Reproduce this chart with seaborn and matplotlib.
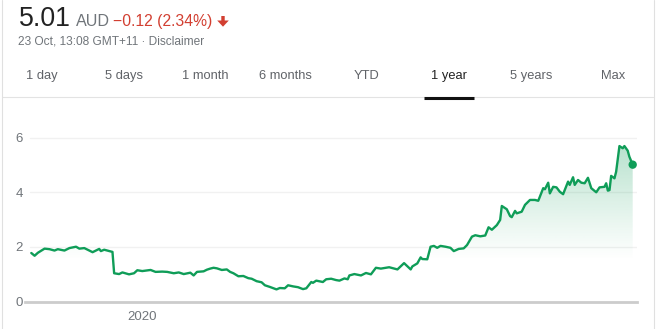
import matplotlib
matplotlib.use("Agg")
import matplotlib.pyplot as plt
import matplotlib.dates as mdates
from matplotlib.patches import Polygon
from matplotlib.lines import Line2D
import matplotlib.colors as mcolors
import numpy as np
import pandas as pd
import seaborn as sns

# ---------------- data ----------------
dates = [
    "2019-10-26", "2019-10-28", "2019-10-30", "2019-11-03", "2019-11-06", "2019-11-09",
    "2019-11-11", "2019-11-15", "2019-11-18", "2019-11-22", "2019-11-24", "2019-11-27",
    "2019-12-02", "2019-12-06", "2019-12-07", "2019-12-09", "2019-12-14", "2019-12-15",
    "2019-12-18", "2019-12-20", "2019-12-24", "2019-12-27", "2019-12-29", "2020-01-01",
    "2020-01-06", "2020-01-09", "2020-01-13", "2020-01-16", "2020-01-20", "2020-01-23",
    "2020-01-26", "2020-01-30", "2020-02-01", "2020-02-03", "2020-02-07", "2020-02-09",
    "2020-02-11", "2020-02-13", "2020-02-15", "2020-02-18", "2020-02-21", "2020-02-23",
    "2020-02-25", "2020-02-28", "2020-03-02", "2020-03-05", "2020-03-07", "2020-03-10",
    "2020-03-13", "2020-03-15", "2020-03-18", "2020-03-22", "2020-03-24", "2020-03-27",
    "2020-03-29", "2020-04-01", "2020-04-04", "2020-04-07", "2020-04-09", "2020-04-12",
    "2020-04-13", "2020-04-15", "2020-04-19", "2020-04-21", "2020-04-24", "2020-04-27",
    "2020-04-29", "2020-05-02", "2020-05-04", "2020-05-05", "2020-05-08", "2020-05-12",
    "2020-05-15", "2020-05-18", "2020-05-21", "2020-05-24", "2020-05-29", "2020-06-03",
    "2020-06-07", "2020-06-11", "2020-06-12", "2020-06-15", "2020-06-17", "2020-06-18",
    "2020-06-21", "2020-06-23", "2020-06-25", "2020-06-27", "2020-06-29", "2020-07-02",
    "2020-07-05", "2020-07-07", "2020-07-10", "2020-07-13", "2020-07-15", "2020-07-18",
    "2020-07-20", "2020-07-23", "2020-07-26", "2020-07-28", "2020-07-30", "2020-08-02",
    "2020-08-04", "2020-08-05", "2020-08-08", "2020-08-10", "2020-08-11", "2020-08-13",
    "2020-08-14", "2020-08-17", "2020-08-19", "2020-08-22", "2020-08-25", "2020-08-27",
    "2020-08-30", "2020-08-31", "2020-09-02", "2020-09-03", "2020-09-05", "2020-09-07",
    "2020-09-09", "2020-09-11", "2020-09-14", "2020-09-15", "2020-09-17", "2020-09-18",
    "2020-09-20", "2020-09-22", "2020-09-24", "2020-09-26", "2020-09-28", "2020-10-01",
    "2020-10-03", "2020-10-06", "2020-10-07", "2020-10-08", "2020-10-09", "2020-10-10",
    "2020-10-12", "2020-10-13", "2020-10-15", "2020-10-17", "2020-10-18", "2020-10-20",
    "2020-10-21", "2020-10-23",
]
prices = [
    1.78, 1.68, 1.79, 1.94, 1.92, 1.87,
    1.92, 1.87, 1.96, 2.01, 1.94, 1.96,
    1.81, 1.93, 1.85, 1.90, 1.82, 1.04,
    1.01, 1.07, 1.00, 1.04, 1.15, 1.12,
    1.16, 1.09, 1.10, 1.09, 1.04, 1.07,
    1.01, 1.06, 0.96, 1.09, 1.11, 1.17,
    1.21, 1.24, 1.22, 1.16, 1.18, 1.09,
    1.04, 0.93, 0.94, 0.86, 0.84, 0.75,
    0.71, 0.60, 0.54, 0.45, 0.50, 0.49,
    0.60, 0.56, 0.53, 0.46, 0.49, 0.72,
    0.69, 0.77, 0.72, 0.82, 0.84, 0.79,
    0.77, 0.85, 0.82, 0.96, 1.01, 0.96,
    1.05, 1.00, 1.24, 1.21, 1.26, 1.18,
    1.41, 1.18, 1.29, 1.40, 1.62, 1.56,
    1.55, 2.01, 2.04, 1.97, 2.04, 2.01,
    1.97, 1.85, 1.93, 1.95, 2.07, 2.38,
    2.43, 2.39, 2.42, 2.72, 2.63, 2.80,
    2.99, 3.50, 3.38, 3.13, 3.09, 3.32,
    3.23, 3.29, 3.54, 3.72, 3.72, 3.69,
    4.15, 4.11, 4.35, 3.96, 4.20, 4.18,
    4.02, 3.93, 4.39, 4.27, 4.55, 4.27,
    4.45, 4.35, 4.33, 4.53, 4.15, 4.00,
    4.18, 4.20, 4.33, 4.06, 4.08, 4.60,
    4.51, 4.75, 5.69, 5.61, 5.69, 5.52,
    5.30, 5.01,
]
y_ticks = [0, 2, 4, 6]
x_tick_dates = ["2020-01-01"]
x_tick_labels = ["2020"]
tabs = ["1 day", "5 days", "1 month", "6 months", "YTD", "1 year", "5 years", "Max"]
price_text = "5.01"
currency = "AUD"
change_text = "\u22120.12 (2.34%)"
subtitle = "23 Oct, 13:08 GMT+11 \u00b7 Disclaimer"

# ---------------- style ----------------
sns.set_theme(style="white")
plt.rcParams['font.family'] = ['Liberation Sans', 'DejaVu Sans']

W, H = 656, 329
fig = plt.figure(figsize=(W / 100, H / 100), dpi=100)
fig.patch.set_facecolor("white")


def fx(x):
    return x / W


def fy(y):
    return 1 - y / H


green = "#0f9d58"
gray_txt = "#70757a"
tab_gray = "#606368"
red = "#d23f31"

# ---------------- chart ----------------
ax_left, ax_right = 25, 637
ax_bottom, ax_top = 301.7, 123.9
ax = fig.add_axes([fx(ax_left), fy(ax_bottom), (ax_right - ax_left) / W, (ax_bottom - ax_top) / H])
ax.set_facecolor("none")

df = pd.DataFrame({"date": pd.to_datetime(dates), "price": prices})
sns.lineplot(data=df, x="date", y="price", ax=ax, color=green, linewidth=1.7, zorder=4)

# gradient fill under line
xnum = mdates.date2num(df["date"])
verts = [(xnum[0], 0)] + list(zip(xnum, df["price"])) + [(xnum[-1], 0)]
poly = Polygon(verts, closed=True, facecolor="none", edgecolor="none", transform=ax.transData)
ax.add_patch(poly)
rgb = mcolors.to_rgb(green)
n = 256
grad = np.zeros((n, 1, 4))
grad[..., 0], grad[..., 1], grad[..., 2] = rgb
ys = np.linspace(6.5, 0, n)
grad[:, 0, 3] = np.clip((ys - 1.5) / (6.0 - 1.5), 0, 1) ** 1.1 * 0.32
im = ax.imshow(grad, extent=[xnum[0], xnum[-1], 0, 6.5], aspect="auto", origin="upper",
               zorder=2, interpolation="bilinear")
im.set_clip_path(poly)

# end dot
ax.scatter([df["date"].iloc[-1]], [df["price"].iloc[-1]], s=36, color=green, zorder=5,
           edgecolors="none")

jan1 = mdates.date2num(pd.Timestamp("2020-01-01"))
ax.set_xlim(jan1 - 70.8, jan1 + 298.6)
ax.set_ylim(0, 6.5)

for v in y_ticks[1:]:
    ax.axhline(v, xmin=5 / 612, xmax=1, color="#f1f1f1", lw=1, zorder=1)

ax.set_yticks(y_ticks)
ax.set_yticklabels([str(v) for v in y_ticks])
ax.set_xticks([mdates.date2num(pd.Timestamp(d)) for d in x_tick_dates])
ax.set_xticklabels(x_tick_labels)
ax.set_xlabel("")
ax.set_ylabel("")
ax.tick_params(axis="y", length=0, pad=1.5, labelsize=9.5, labelcolor=gray_txt)
ax.tick_params(axis="x", length=3.6, width=1, color="#cccccc", pad=2.8, labelsize=9.5,
               labelcolor=gray_txt)
for s in ["top", "right", "left"]:
    ax.spines[s].set_visible(False)
ax.spines["bottom"].set_color("#cccccc")
ax.spines["bottom"].set_linewidth(2)
ax.spines["bottom"].set_zorder(6)

# ---------------- header ----------------
fig.text(fx(18.5), fy(26), price_text, fontsize=19.3, color="#222222", va="baseline", ha="left")
fig.text(fx(76), fy(26), currency, fontsize=11.6, color=gray_txt, va="baseline", ha="left")
fig.text(fx(112.5), fy(26), change_text, fontsize=11.3, color=red, va="baseline", ha="left")
arrow = Polygon([(fx(221.3), fy(16)), (fx(224.7), fy(16)), (fx(224.7), fy(20.5)),
                 (fx(228.8), fy(20.5)), (fx(223), fy(26.7)), (fx(217.2), fy(20.5)),
                 (fx(221.3), fy(20.5))], closed=True, facecolor=red, edgecolor="none",
                transform=fig.transFigure)
fig.add_artist(arrow)
fig.text(fx(18), fy(44), subtitle, fontsize=8.6, color=gray_txt, va="baseline", ha="left")

tab_centers = [42, 124, 205, 285, 367, 449, 531, 613]
for t, cx in zip(tabs, tab_centers):
    col = "#222222" if t == "1 year" else tab_gray
    fig.text(fx(cx), fy(79), t, fontsize=9.3, color=col, va="baseline", ha="center")

fig.add_artist(Line2D([fx(2), fx(653)], [fy(97.5), fy(97.5)], color="#e3e3e3", lw=0.8,
                      transform=fig.transFigure))
fig.add_artist(Line2D([fx(424), fx(474)], [fy(97.8), fy(97.8)], color="#111111", lw=2.2,
                      transform=fig.transFigure, solid_capstyle="butt"))
for xb in [1.5, 653.5]:
    fig.add_artist(Line2D([fx(xb), fx(xb)], [0, 1], color="#e0e0e0", lw=0.8,
                          transform=fig.transFigure))

fig.savefig("out.png", dpi=100, facecolor="white")
